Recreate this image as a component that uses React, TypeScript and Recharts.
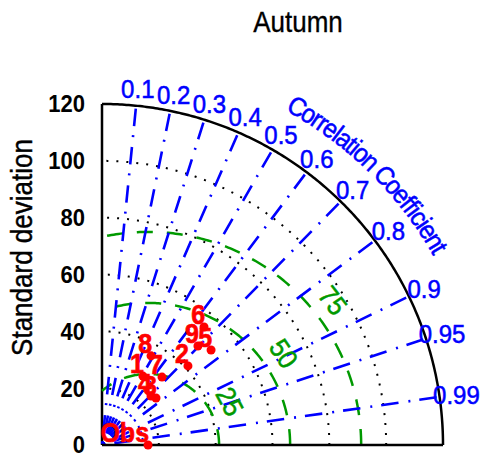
import React from 'react';
import { ScatterChart, Scatter, XAxis, YAxis } from 'recharts';

// ---------- data ----------
const titleText = 'Autumn';
const yLabelText = 'Standard deviation';
const corrAxisTitle = 'Correlation Coefficient';
const stdMax = 120;
const stdTicks = [0, 20, 40, 60, 80, 100, 120];
const stdGridArcs = [20, 40, 60, 80, 100];
const corrTicks = [0.1, 0.2, 0.3, 0.4, 0.5, 0.6, 0.7, 0.8, 0.9, 0.95, 0.99];
const rmsLevels = [25, 50, 75];
const obsStd = 16.2;
const obsLabel = 'Obs';
const modelLabels = ['1', '2', '3', '4', '5', '6', '7', '8', '9'];
const modelStd = [28.2, 41.1, 25.2, 24.4, 50.9, 54.9, 31.9, 35.8, 48.5];
const modelCorr = [0.511, 0.736, 0.754, 0.707, 0.754, 0.654, 0.662, 0.482, 0.696];

// ---------- style ----------
const W = 484;
const H = 455;
const FONT = '"Liberation Sans", Arial, Helvetica, sans-serif';
const BLUE = '#0000ff';
const GREEN = '#009900';
const RED = '#ff0000';
const SY = 1.1; // vertical stretch of the reference's glyphs
const rmsLabelAngles = [28, 34, 38];
const rmsLabelGap = 7.5;

const rnd = (v: number) => Math.max(0, Math.round(v * 1e6) / 1e6);
const rad = (d: number) => (d * Math.PI) / 180;

function arcPoints(cx: number, r: number, a0: number, a1: number, n = 160) {
  const pts: { x: number; y: number }[] = [];
  for (let i = 0; i <= n; i++) {
    const a = a0 + ((a1 - a0) * i) / n;
    pts.push({ x: rnd(cx + r * Math.cos(a)), y: rnd(r * Math.sin(a)) });
  }
  return pts;
}

const noShape = () => <g />;

// text drawn around (x, y), optionally rotated, slightly stretched vertically
function SText(props: {
  x: number; y: number; rot?: number; fill: string; size: number; bold?: boolean;
  anchor?: 'start' | 'middle' | 'end'; baseline?: string; sw?: number; children: React.ReactNode;
}) {
  const { x, y, rot = 0, fill, size, bold, anchor = 'middle', baseline = 'central', sw = 0, children } = props;
  return (
    <g transform={`translate(${x} ${y}) rotate(${rot}) scale(1 ${SY})`}>
      <text
        x={0}
        y={0}
        textAnchor={anchor}
        dominantBaseline={baseline as any}
        fill={fill}
        stroke={sw ? fill : 'none'}
        strokeWidth={sw}
        fontSize={size}
        fontWeight={bold ? 'bold' : 'normal'}
        fontFamily={FONT}
      >
        {children}
      </text>
    </g>
  );
}

// character widths (Arial, em) for the curved axis title
const CW: Record<string, number> = {
  C: 0.722, o: 0.556, r: 0.333, e: 0.556, l: 0.222, a: 0.556, t: 0.278, i: 0.222,
  n: 0.556, ' ': 0.278, f: 0.278, c: 0.5,
};
function letterData() {
  const chars = corrAxisTitle.split('');
  const centers: number[] = [];
  let acc = 0;
  chars.forEach((ch) => {
    const w = CW[ch] ?? 0.5;
    centers.push(acc + w / 2);
    acc += w;
  });
  const first = centers[0];
  const last = centers[centers.length - 1];
  const th0 = 60;
  const th1 = 30.2;
  return chars.map((ch, i) => {
    const th = th0 + ((centers[i] - first) / (last - first)) * (th1 - th0);
    return { x: rnd(stdMax * Math.cos(rad(th))), y: rnd(stdMax * Math.sin(rad(th))), ch, th };
  });
}

const corrLabelData = corrTicks.map((c) => ({
  x: rnd(stdMax * c),
  y: rnd(stdMax * Math.sqrt(1 - c * c)),
  c,
}));

const rmsLabelData = rmsLevels.map((r, i) => {
  const phi = rad(rmsLabelAngles[i]);
  return {
    x: rnd(obsStd + (r + rmsLabelGap) * Math.cos(phi)),
    y: rnd((r + rmsLabelGap) * Math.sin(phi)),
    label: String(r),
    ang: rmsLabelAngles[i],
  };
});

const modelData = modelLabels.map((label, i) => ({
  x: rnd(modelStd[i] * modelCorr[i]),
  y: rnd(modelStd[i] * Math.sqrt(1 - modelCorr[i] * modelCorr[i])),
  label,
}));
const obsData = [{ x: obsStd, y: 0, label: obsLabel }];

const CorrLabel = (p: any) => {
  const c = p.payload.c;
  const s = Math.sqrt(1 - c * c);
  return (
    <SText x={p.cx + 17 * c} y={p.cy - 17 * s} fill={BLUE} size={24} sw={0.5}>
      {String(c)}
    </SText>
  );
};

const LetterShape = (p: any) => {
  const th = p.payload.th;
  const x = p.cx + 50 * Math.cos(rad(th));
  const y = p.cy - 50 * Math.sin(rad(th));
  return (
    <SText x={x} y={y} rot={90 - th} fill={BLUE} size={24} sw={0.5}>
      {p.payload.ch}
    </SText>
  );
};

const RmsLabel = (p: any) => (
  <SText x={p.cx} y={p.cy} rot={90 - p.payload.ang} fill={GREEN} size={25} sw={0.5}>
    {p.payload.label}
  </SText>
);

const Dot = (p: any) => <circle cx={p.cx} cy={p.cy} r={4.5} fill={RED} />;
const PointLabel = (p: any) => (
  <SText x={p.cx + 1} y={p.cy - 3} fill={RED} size={25} bold anchor="end" baseline="alphabetic" sw={0.6}>
    {p.payload.label}
  </SText>
);

const YTick = (p: any) => (
  <SText x={p.x} y={p.y} fill="#000" size={22} bold anchor="end">
    {p.payload.value}
  </SText>
);

export default function App() {
  const letters = letterData();
  return (
    <div style={{ position: 'absolute', left: 0, top: 0, width: W, height: H, background: '#fff' }}>
      <ScatterChart width={W} height={H} margin={{ top: 104, right: 41, bottom: 10, left: 42 }}>
        <XAxis type="number" dataKey="x" domain={[0, stdMax]} hide />
        <YAxis
          type="number"
          dataKey="y"
          domain={[0, stdMax]}
          ticks={stdTicks}
          interval={0}
          width={60}
          axisLine={{ stroke: '#000', strokeWidth: 2.5 }}
          tickLine={false}
          tickSize={6}
          tickMargin={11}
          tick={YTick}
        />
        {stdGridArcs.map((r) => (
          <Scatter
            key={'s' + r}
            data={arcPoints(0, r, 0, Math.PI / 2)}
            shape={noShape}
            line={{ stroke: '#000', strokeWidth: 2, strokeDasharray: '2 8' }}
            isAnimationActive={false}
          />
        ))}
        {rmsLevels.map((r) => (
          <Scatter
            key={'r' + r}
            data={arcPoints(obsStd, r, 0, Math.acos(-obsStd / r))}
            shape={noShape}
            line={{ stroke: GREEN, strokeWidth: 2.5, strokeDasharray: '16 14' }}
            isAnimationActive={false}
          />
        ))}
        {corrTicks.map((c) => (
          <Scatter
            key={'c' + c}
            data={[{ x: 0, y: 0 }, { x: rnd(stdMax * c), y: rnd(stdMax * Math.sqrt(1 - c * c)) }]}
            shape={noShape}
            line={{ stroke: BLUE, strokeWidth: 2.6, strokeDasharray: '17.5 10 2 9', strokeDashoffset: -12.5 }}
            isAnimationActive={false}
          />
        ))}
        <Scatter
          data={arcPoints(0, stdMax, 0, Math.PI / 2, 240)}
          shape={noShape}
          line={{ stroke: '#000', strokeWidth: 2.5 }}
          isAnimationActive={false}
        />
        <Scatter
          data={[{ x: 0, y: 0 }, { x: stdMax, y: 0 }]}
          shape={noShape}
          line={{ stroke: '#000', strokeWidth: 2.5 }}
          isAnimationActive={false}
        />
        <Scatter data={corrLabelData} shape={CorrLabel} isAnimationActive={false} />
        <Scatter data={letters} shape={LetterShape} isAnimationActive={false} />
        <Scatter data={rmsLabelData} shape={RmsLabel} isAnimationActive={false} />
        <Scatter data={[...modelData, ...obsData]} shape={Dot} isAnimationActive={false} />
        <Scatter data={[...modelData, ...obsData]} shape={PointLabel} isAnimationActive={false} />
      </ScatterChart>
      <svg width={W} height={H} style={{ position: 'absolute', left: 0, top: 0, pointerEvents: 'none' }}>
        <SText x={298} y={22} fill="#000" size={26} sw={0.3}>
          {titleText}
        </SText>
        <SText x={22.5} y={247.5} rot={-90} fill="#000" size={26} sw={0.4}>
          {yLabelText}
        </SText>
      </svg>
    </div>
  );
}
